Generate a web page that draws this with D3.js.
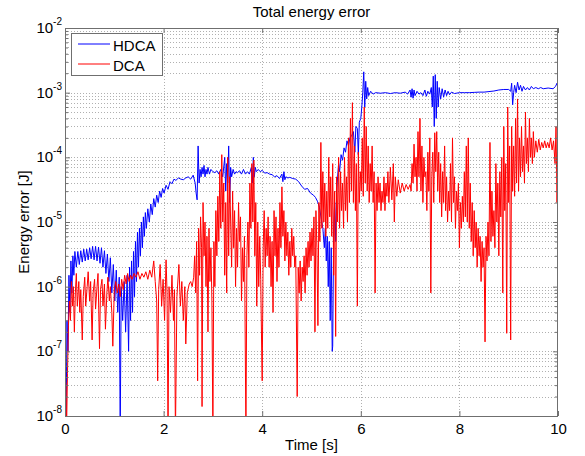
<!DOCTYPE html>
<html><head><meta charset="utf-8">
<script src="https://cdn.jsdelivr.net/npm/d3@7"></script>
<style>
body{margin:0;background:#fff;}
svg{display:block;font-family:"Liberation Sans",Arial,sans-serif;}
</style></head>
<body><svg id="c" width="585" height="456"></svg>
<script>
const xTicks = [0, 2, 4, 6, 8, 10];
const yDecades = [1e-8, 1e-7, 1e-6, 1e-5, 1e-4, 1e-3, 1e-2];
const yExponents = ["-8", "-7", "-6", "-5", "-4", "-3", "-2"];
const seriesNames = ["HDCA", "DCA"];
const seriesColors = ["#0000ff", "#ff0000"];

const hdcaData = [
[0.00,2e-7],[0.02,5e-9],[0.04,3e-7],[0.06,1e-7],[0.08,1.5e-6],[0.10,4e-7],[0.12,2.5e-6],[0.14,8e-7],[0.16,3e-6],[0.18,1.5e-6],
[0.20,3.5e-6],[0.23,2e-6],[0.26,3.5e-6],[0.29,2.2e-6],[0.32,3.6e-6],[0.35,2.4e-6],[0.38,3.8e-6],[0.41,2.5e-6],[0.44,3.8e-6],[0.47,2.6e-6],
[0.50,4e-6],[0.53,2.7e-6],[0.56,4.2e-6],[0.59,2.6e-6],[0.62,4.2e-6],[0.65,2.5e-6],[0.68,4.1e-6],[0.71,2.3e-6],[0.74,4e-6],[0.77,2e-6],
[0.80,3.6e-6],[0.83,1.6e-6],[0.86,3.2e-6],[0.89,1.2e-6],[0.92,2.8e-6],[0.95,8e-7],[0.98,2.2e-6],[1.01,6e-7],[1.04,1.8e-6],[1.07,4e-7],
[1.10,1.4e-6],[1.12,5e-9],[1.14,1e-6],[1.17,3e-7],[1.20,1.2e-6],[1.23,2e-7],[1.26,1.5e-6],[1.29,1e-7],[1.31,2e-6],[1.33,3e-7],
[1.35,2.5e-6],[1.37,4e-7],[1.39,3.5e-6],[1.41,7e-7],[1.43,5e-6],[1.45,1.2e-6],[1.47,7e-6],[1.49,2e-6],[1.51,8e-6],[1.53,3e-6],
[1.55,1e-5],[1.57,4e-6],[1.59,1.2e-5],[1.61,6e-6],[1.63,1.4e-5],[1.65,8e-6],[1.68,1.6e-5],[1.71,1e-5],[1.74,1.9e-5],[1.77,1.3e-5],
[1.80,2.3e-5],[1.83,1.7e-5],[1.86,2.6e-5],[1.89,2e-5],[1.92,3e-5],[1.95,2.4e-5],[1.98,3.3e-5],[2.01,2.8e-5],[2.05,3.7e-5],[2.09,3.2e-5],
[2.13,4.2e-5],[2.17,3.9e-5],[2.21,4.6e-5],[2.25,4.4e-5],[2.30,4.8e-5],[2.35,4.6e-5],[2.40,4.5e-5],[2.45,4.8e-5],[2.50,5e-5],[2.55,4.6e-5],
[2.60,5.3e-5],[2.64,4e-5],[2.66,2.8e-5],[2.68,2.2e-5],[2.70,1.5e-4],[2.72,4e-5],[2.74,6.5e-5],[2.76,5e-5],[2.78,7e-5],[2.80,5.5e-5],
[2.82,7.5e-5],[2.84,5e-5],[2.86,6.5e-5],[2.88,5.5e-5],[2.90,7e-5],[2.93,5.5e-5],[2.96,6.5e-5],[3.00,6e-5],[3.04,5.8e-5],[3.08,6.2e-5],
[3.12,5.5e-5],[3.16,6.5e-5],[3.20,5e-5],[3.24,1e-4],[3.26,3e-5],[3.28,8e-5],[3.30,4e-5],[3.32,1.5e-4],[3.34,2e-5],[3.36,7e-5],
[3.38,5e-5],[3.41,6.5e-5],[3.44,5.5e-5],[3.47,6e-5],[3.50,5.8e-5],[3.54,6.2e-5],[3.58,5.5e-5],[3.62,6.5e-5],[3.66,5.5e-5],[3.70,6e-5],
[3.74,5.5e-5],[3.78,7e-5],[3.80,4e-5],[3.82,1e-4],[3.84,5e-5],[3.86,7e-5],[3.88,6e-5],[3.92,6.5e-5],[3.96,6e-5],[4.00,6.3e-5],
[4.05,5.7e-5],[4.10,5.8e-5],[4.15,5.5e-5],[4.20,5.4e-5],[4.25,5e-5],[4.30,5.2e-5],[4.35,4.7e-5],[4.40,5.5e-5],[4.42,4.2e-5],[4.44,6e-5],
[4.46,4.5e-5],[4.48,5e-5],[4.52,4.8e-5],[4.56,4.9e-5],[4.62,4.7e-5],[4.68,4.6e-5],[4.74,4.2e-5],[4.80,3.6e-5],[4.86,3.2e-5],[4.92,3.3e-5],
[4.98,2.8e-5],[5.04,2.6e-5],[5.08,2.4e-5],[5.12,2.1e-5],[5.16,1.7e-5],[5.20,1.1e-5],[5.23,8e-6],[5.26,4e-6],[5.28,8e-6],[5.30,2.5e-6],
[5.32,6e-6],[5.34,1e-6],[5.36,5e-6],[5.38,3e-7],[5.40,4e-6],[5.42,1e-7],[5.43,1.2e-7],[5.45,8e-6],[5.47,2e-5],[5.49,5e-6],
[5.51,3e-5],[5.53,5e-5],[5.55,8e-5],[5.57,6e-5],[5.60,1.1e-4],[5.63,9e-5],[5.66,1.4e-4],[5.69,1.2e-4],[5.72,1.8e-4],[5.75,1.5e-4],
[5.78,2e-4],[5.82,2.2e-4],[5.85,2.5e-4],[5.88,1.2e-4],[5.90,3e-4],[5.93,2.8e-4],[5.95,1.1e-4],[5.97,3.5e-4],[6.00,4e-4],[6.02,6e-4],
[6.04,1e-3],[6.06,2.1e-3],[6.08,6e-4],[6.10,1.5e-3],[6.12,8e-4],[6.14,1.2e-3],[6.16,9e-4],[6.20,1.05e-3],[6.25,9.5e-4],[6.30,1e-3],
[6.40,9.8e-4],[6.50,1e-3],[6.60,9.7e-4],[6.70,1e-3],[6.80,9.8e-4],[6.90,1.02e-3],[6.95,9.5e-4],[7.00,1.1e-3],[7.02,8.5e-4],[7.04,1.15e-3],
[7.06,8.2e-4],[7.08,1.1e-3],[7.10,9e-4],[7.14,1.05e-3],[7.18,9.5e-4],[7.22,1e-3],[7.26,9e-4],[7.30,1.1e-3],[7.33,8.8e-4],[7.36,1.05e-3],
[7.40,9.5e-4],[7.43,1.2e-3],[7.45,6e-4],[7.47,1.8e-3],[7.49,3e-4],[7.51,1.9e-3],[7.53,4e-4],[7.55,1.5e-3],[7.57,6e-4],[7.59,1.2e-3],
[7.62,8e-4],[7.65,1.15e-3],[7.68,8.5e-4],[7.71,1.1e-3],[7.74,9e-4],[7.77,1.05e-3],[7.80,9.3e-4],[7.84,1.02e-3],[7.90,9.7e-4],[8.00,1e-3],
[8.10,1e-3],[8.20,1e-3],[8.30,1.01e-3],[8.40,1.02e-3],[8.50,1.02e-3],[8.60,1.04e-3],[8.70,1.06e-3],[8.80,1.1e-3],[8.90,1.12e-3],[9.00,1.12e-3],
[9.04,1.05e-3],[9.06,1.4e-3],[9.08,6.5e-4],[9.10,1e-3],[9.12,1.3e-3],[9.15,1e-3],[9.18,1.45e-3],[9.21,1.1e-3],[9.24,1.3e-3],[9.27,1.05e-3],
[9.30,1.25e-3],[9.34,1.1e-3],[9.38,1.2e-3],[9.42,1.1e-3],[9.46,1.25e-3],[9.50,1.15e-3],[9.55,1.2e-3],[9.60,1.15e-3],[9.65,1.2e-3],[9.70,1.15e-3],
[9.80,1.18e-3],[9.90,1.15e-3],[9.95,1.25e-3],[9.98,1.4e-3],[10.00,1.2e-3]
];

const dcaData = [
[0.00,4e-8],[0.02,3e-8],[0.03,5e-9],[0.05,4.5e-8],[0.07,2.5e-7],[0.09,6e-7],[0.11,3e-7],[0.13,1.2e-6],[0.15,5e-7],[0.17,1e-6],
[0.19,2e-7],[0.21,8e-7],[0.23,1.6e-6],[0.25,5e-7],[0.28,1.2e-6],[0.30,4e-7],[0.32,9e-7],[0.35,1.5e-7],[0.37,7e-7],[0.40,1.4e-6],
[0.42,5e-7],[0.45,1e-6],[0.47,1.7e-6],[0.50,6e-7],[0.52,1.2e-6],[0.55,1.5e-7],[0.57,8e-7],[0.60,1.3e-6],[0.62,4.5e-7],[0.65,1e-6],
[0.67,1.6e-6],[0.70,1.1e-7],[0.72,9e-7],[0.75,1.3e-6],[0.77,5e-7],[0.80,1.1e-6],[0.82,2.2e-7],[0.85,8e-7],[0.87,1.4e-6],[0.90,6e-7],
[0.92,1e-6],[0.95,4e-7],[0.97,1.2e-7],[1.00,9e-7],[1.03,1.2e-6],[1.06,8e-7],[1.09,1.1e-6],[1.12,7e-7],[1.15,1.3e-6],[1.18,9e-7],
[1.21,1.5e-6],[1.24,1.1e-6],[1.27,1.6e-6],[1.30,1.2e-6],[1.33,1.5e-6],[1.36,1.3e-6],[1.40,1.6e-6],[1.44,1.4e-6],[1.48,1.7e-6],[1.52,1.3e-6],
[1.56,1.6e-6],[1.60,1.4e-6],[1.64,1.7e-6],[1.68,1.3e-6],[1.72,1.8e-6],[1.76,1.4e-6],[1.80,2.5e-6],[1.83,1.2e-6],[1.86,6e-7],[1.88,3.5e-8],
[1.90,9e-7],[1.93,2.2e-6],[1.96,5e-7],[1.99,1.3e-6],[2.02,3e-7],[2.05,2.6e-6],[2.07,8e-7],[2.09,5e-9],[2.11,1e-6],[2.14,4e-7],
[2.17,1.5e-6],[2.20,3e-7],[2.22,9e-7],[2.24,5e-9],[2.27,7e-7],[2.31,2.2e-6],[2.34,5e-7],[2.37,1.2e-6],[2.40,3e-7],[2.43,1e-6],
[2.45,1.3e-7],[2.48,8e-7],[2.52,1.1e-6],[2.55,1.2e-6],[2.58,1e-6],[2.61,1.4e-6],[2.63,3e-6],[2.65,8e-7],[2.67,5e-6],[2.69,3.5e-8],
[2.71,8e-6],[2.73,1.5e-6],[2.75,1.2e-5],[2.77,4e-6],[2.78,1.4e-8],[2.80,2e-5],[2.82,3e-6],[2.84,1e-5],[2.86,1e-6],[2.88,6e-6],
[2.90,2e-7],[2.92,8e-6],[2.94,1.2e-6],[2.96,4e-6],[2.98,6e-7],[3.00,5e-9],[3.02,5e-6],[3.04,1e-6],[3.06,1.5e-5],[3.08,3e-6],
[3.10,2.5e-5],[3.12,5e-6],[3.14,6e-5],[3.16,8e-6],[3.18,1.1e-4],[3.20,1e-5],[3.22,4e-5],[3.24,1.5e-6],[3.26,2e-5],[3.28,8e-7],
[3.30,1e-4],[3.32,3e-6],[3.34,5e-5],[3.36,1e-5],[3.38,2e-6],[3.40,3e-5],[3.42,4e-6],[3.44,1.5e-5],[3.46,1e-6],[3.48,8e-6],
[3.50,2e-6],[3.52,2e-5],[3.54,5e-6],[3.56,1.2e-5],[3.58,6e-7],[3.60,4e-6],[3.62,1.2e-6],[3.64,6e-6],[3.67,5e-9],[3.69,3e-6],
[3.71,1e-5],[3.73,2e-6],[3.75,4e-5],[3.77,8e-6],[3.79,8e-5],[3.81,1e-5],[3.83,9e-5],[3.85,3e-6],[3.87,2e-5],[3.89,5e-7],
[3.91,1e-5],[3.93,1e-6],[3.95,6e-6],[3.97,1.3e-6],[3.99,1e-7],[4.00,3.5e-8],[4.02,4e-6],[4.04,1.5e-5],[4.06,2e-6],[4.08,8e-6],
[4.10,3e-6],[4.12,1.2e-5],[4.14,2e-6],[4.16,6e-6],[4.18,1e-6],[4.20,5e-6],[4.22,4e-7],[4.24,1.5e-5],[4.26,3e-6],[4.28,1.2e-5],
[4.30,1.2e-6],[4.32,8e-6],[4.34,2e-6],[4.36,2e-5],[4.38,4e-6],[4.40,3.5e-5],[4.42,6e-6],[4.44,1.5e-5],[4.46,2.5e-6],[4.48,1e-5],
[4.50,3e-6],[4.52,7e-6],[4.54,1.5e-6],[4.56,5e-6],[4.58,2e-6],[4.60,8e-6],[4.62,3e-6],[4.64,6e-6],[4.66,2e-6],[4.68,3e-6],
[4.70,1e-7],[4.71,2e-8],[4.73,2e-6],[4.75,8e-7],[4.77,2.5e-6],[4.79,6e-7],[4.81,2e-6],[4.83,1.2e-6],[4.85,3e-6],[4.87,8e-7],
[4.89,4e-6],[4.91,1.5e-6],[4.93,5e-6],[4.95,2e-6],[4.97,7e-6],[4.99,2.5e-6],[5.01,8e-6],[5.03,3e-6],[5.05,1.2e-5],[5.07,2e-7],
[5.09,1.5e-5],[5.11,4e-6],[5.13,2.5e-7],[5.15,2e-5],[5.17,5e-6],[5.19,1.7e-4],[5.21,8e-6],[5.23,6e-5],[5.25,1e-5],[5.27,4e-5],
[5.29,6e-6],[5.31,3e-5],[5.33,8e-6],[5.35,1e-4],[5.37,1.2e-5],[5.39,5e-5],[5.41,6e-6],[5.43,8e-5],[5.45,1.5e-6],[5.47,3e-5],
[5.49,1.7e-7],[5.51,5e-5],[5.53,1e-5],[5.55,1e-4],[5.57,8e-6],[5.59,6e-5],[5.61,1.5e-5],[5.63,4e-5],[5.65,8e-6],[5.67,1e-4],
[5.69,1.5e-5],[5.71,5e-5],[5.73,1e-5],[5.75,2e-4],[5.77,2e-5],[5.79,4e-4],[5.81,3e-5],[5.83,7e-4],[5.85,2e-5],[5.87,1.5e-4],
[5.89,1.5e-5],[5.91,8e-5],[5.93,5e-7],[5.95,1.2e-4],[5.97,2e-5],[5.99,6e-5],[6.01,3e-5],[6.03,2e-4],[6.05,2.5e-5],[6.07,6e-4],
[6.09,4e-5],[6.11,3e-4],[6.13,3e-5],[6.15,1.5e-4],[6.17,2e-5],[6.19,8e-5],[6.21,3e-5],[6.23,1.5e-4],[6.25,2e-5],[6.27,6e-5],
[6.29,8e-7],[6.31,4e-5],[6.33,1.5e-5],[6.35,5e-5],[6.37,2e-5],[6.39,4e-5],[6.41,1.5e-5],[6.43,3e-5],[6.45,2e-5],[6.47,5e-5],
[6.49,1.5e-5],[6.51,4e-5],[6.53,2.5e-5],[6.55,6e-5],[6.57,2e-5],[6.60,7e-5],[6.63,2.2e-5],[6.66,8e-5],[6.68,1e-5],[6.70,5e-5],
[6.73,2.5e-5],[6.76,4.5e-5],[6.80,2.8e-5],[6.84,4e-5],[6.88,3e-5],[6.92,3.8e-5],[6.96,3.2e-5],[7.00,3.8e-5],[7.02,3e-5],[7.04,8e-5],
[7.06,4e-5],[7.08,1.6e-4],[7.10,5e-5],[7.12,1e-4],[7.14,3e-5],[7.16,2.5e-4],[7.18,5e-5],[7.20,4e-4],[7.22,3e-5],[7.24,1.5e-4],
[7.26,2e-5],[7.28,1e-4],[7.30,5e-5],[7.32,6e-5],[7.34,1.5e-5],[7.36,1.2e-4],[7.38,3e-5],[7.40,2e-4],[7.42,8e-7],[7.44,5e-5],
[7.46,1.2e-4],[7.48,2e-5],[7.50,2.4e-4],[7.52,6e-5],[7.54,2.5e-4],[7.56,3e-5],[7.58,1.2e-4],[7.60,2e-5],[7.62,8e-5],[7.64,1.2e-5],
[7.66,6e-5],[7.68,2e-5],[7.70,1.5e-4],[7.72,1.5e-5],[7.74,5e-5],[7.76,1e-5],[7.78,3e-5],[7.80,1.5e-5],[7.82,8e-5],[7.84,1e-5],
[7.86,2e-4],[7.88,2e-5],[7.90,5e-5],[7.92,8e-6],[7.94,3e-5],[7.96,1.5e-5],[7.98,4e-5],[8.00,4e-6],[8.02,2e-5],[8.04,8e-6],
[8.06,2.5e-5],[8.08,1e-5],[8.10,6e-5],[8.12,1.2e-5],[8.14,1.5e-4],[8.16,1e-5],[8.18,2e-4],[8.20,8e-6],[8.22,4e-5],[8.24,5e-6],
[8.26,2e-5],[8.28,3e-6],[8.30,1.5e-5],[8.32,4e-6],[8.34,1e-5],[8.36,2e-6],[8.38,8e-6],[8.40,3e-6],[8.42,6e-6],[8.44,1.2e-6],
[8.46,5e-6],[8.48,2e-6],[8.50,4e-6],[8.52,1.4e-7],[8.54,6e-6],[8.56,2.5e-6],[8.58,1e-5],[8.60,3e-6],[8.62,1.7e-4],[8.64,5e-6],
[8.66,3e-5],[8.68,6e-6],[8.70,1.5e-5],[8.72,4e-6],[8.74,8e-5],[8.76,1e-5],[8.78,4e-5],[8.80,3e-6],[8.82,6e-5],[8.84,1.2e-5],
[8.86,1e-4],[8.88,8e-7],[8.90,3e-4],[8.92,1.5e-5],[8.94,8e-5],[8.96,1.9e-7],[8.98,6e-4],[9.00,2e-5],[9.02,1.5e-4],[9.04,1.5e-7],
[9.06,3e-4],[9.08,3e-5],[9.10,1.5e-4],[9.12,2.5e-5],[9.14,4e-4],[9.16,4e-5],[9.18,8e-4],[9.20,3e-5],[9.22,2e-4],[9.24,5e-5],
[9.26,3e-4],[9.28,6e-5],[9.30,1.5e-4],[9.32,4e-5],[9.34,5e-4],[9.36,8e-5],[9.38,2e-4],[9.40,6e-5],[9.42,4e-4],[9.44,1e-4],
[9.46,2e-4],[9.48,8e-5],[9.50,2.5e-4],[9.52,1e-4],[9.55,1.8e-4],[9.58,1.2e-4],[9.61,1.9e-4],[9.64,1.3e-4],[9.67,1.7e-4],[9.70,1.4e-4],
[9.73,1.8e-4],[9.76,1.4e-4],[9.79,1.7e-4],[9.82,1.4e-4],[9.85,2e-4],[9.88,1.3e-4],[9.91,1.8e-4],[9.94,8e-5],[9.96,3e-4],[9.98,2e-5],
[10.00,1.5e-4]
];

const svg = d3.select("#c");
const L = 65, R = 558, T = 28, B = 416;
const x = d3.scaleLinear().domain([0, 10]).range([L, R]);
const y = d3.scaleLog().domain([1e-8, 1e-2]).range([B, T]);
const axisCol = "#6f6f6f", gridCol = "#b0b0b0";
const font = "Liberation Sans, Arial, sans-serif";

const minorVals = [];
yDecades.slice(0, -1).forEach(d => { for (let k = 2; k <= 9; k++) minorVals.push(d * k); });

const grid = svg.append("g").attr("stroke", gridCol).attr("stroke-width", 1)
  .attr("stroke-dasharray", "1,2").attr("shape-rendering", "crispEdges");
grid.selectAll(".gx").data(xTicks.slice(1, -1)).enter().append("line")
  .attr("x1", d => Math.round(x(d)) + 0.5).attr("x2", d => Math.round(x(d)) + 0.5)
  .attr("y1", T).attr("y2", B);
grid.selectAll(".gy").data(yDecades.slice(1, -1).concat(minorVals)).enter().append("line")
  .attr("x1", L).attr("x2", R)
  .attr("y1", d => Math.round(y(d)) + 0.5).attr("y2", d => Math.round(y(d)) + 0.5);

svg.append("clipPath").attr("id", "clip").append("rect")
  .attr("x", L).attr("y", T).attr("width", R - L).attr("height", B - T);
const line = d3.line().x(d => x(d[0])).y(d => y(Math.max(d[1], 1e-9)));
const plot = svg.append("g").attr("clip-path", "url(#clip)");
[hdcaData, dcaData].forEach((data, i) => {
  plot.append("path").datum(data).attr("d", line)
    .attr("fill", "none").attr("stroke", seriesColors[i])
    .attr("stroke-width", 1).attr("stroke-linejoin", "miter").attr("stroke-miterlimit", 40);
});

const xAxis = d3.axisBottom(x).tickValues(xTicks).tickSize(-5).tickPadding(7).tickFormat(d3.format("d"));
const gx = svg.append("g").attr("transform", `translate(0,${B})`).call(xAxis);
gx.select(".domain").remove();
gx.selectAll("line").attr("stroke", axisCol);
gx.selectAll("text").attr("font-size", 15).attr("font-family", font).attr("fill", "#000");

const xTop = d3.axisTop(x).tickValues(xTicks).tickSize(-5).tickFormat("");
const gxt = svg.append("g").attr("transform", `translate(0,${T})`).call(xTop);
gxt.select(".domain").remove(); gxt.selectAll("line").attr("stroke", axisCol);

const yAxis = d3.axisLeft(y).tickValues(yDecades).tickSize(-5).tickFormat("");
const gy = svg.append("g").attr("transform", `translate(${L},0)`).call(yAxis);
gy.select(".domain").remove(); gy.selectAll("line").attr("stroke", axisCol);
const yMinor = d3.axisLeft(y).tickValues(minorVals).tickSize(-3).tickFormat("");
const gym = svg.append("g").attr("transform", `translate(${L},0)`).call(yMinor);
gym.select(".domain").remove(); gym.selectAll("line").attr("stroke", axisCol);
const yR = d3.axisRight(y).tickValues(yDecades).tickSize(-5).tickFormat("");
const gyr = svg.append("g").attr("transform", `translate(${R},0)`).call(yR);
gyr.select(".domain").remove(); gyr.selectAll("line").attr("stroke", axisCol);
const yRm = d3.axisRight(y).tickValues(minorVals).tickSize(-3).tickFormat("");
const gyrm = svg.append("g").attr("transform", `translate(${R},0)`).call(yRm);
gyrm.select(".domain").remove(); gyrm.selectAll("line").attr("stroke", axisCol);

const yl = svg.append("g").attr("font-family", font).attr("fill", "#000");
yDecades.forEach((d, i) => {
  const t = yl.append("text").attr("x", L - 3).attr("y", y(d) + 5).attr("text-anchor", "end");
  t.append("tspan").attr("font-size", 15).text("10");
  t.append("tspan").attr("font-size", 10).attr("dy", -8).text(yExponents[i]);
});

svg.append("rect").attr("x", L + 0.5).attr("y", T + 0.5).attr("width", R - L - 1).attr("height", B - T)
  .attr("fill", "none").attr("stroke", axisCol).attr("shape-rendering", "crispEdges");

svg.append("text").attr("x", (L + R) / 2).attr("y", 17).attr("text-anchor", "middle")
  .attr("font-size", 15).attr("font-family", font).text("Total energy error");
svg.append("text").attr("x", (L + R) / 2).attr("y", 450).attr("text-anchor", "middle")
  .attr("font-size", 15).attr("font-family", font).text("Time [s]");
svg.append("text").attr("transform", `translate(29,${(T + B) / 2}) rotate(-90)`).attr("text-anchor", "middle")
  .attr("font-size", 15).attr("font-family", font).text("Energy error [J]");

const lg = svg.append("g");
lg.append("rect").attr("x", 71.5).attr("y", 33.5).attr("width", 91).attr("height", 42)
  .attr("fill", "#fff").attr("stroke", axisCol);
seriesNames.forEach((n, i) => {
  const yy = 44 + i * 20;
  lg.append("line").attr("x1", 78).attr("x2", 110).attr("y1", yy).attr("y2", yy)
    .attr("stroke", seriesColors[i]).attr("stroke-width", 1);
  lg.append("text").attr("x", 113).attr("y", yy + 7).attr("font-size", 15).attr("font-family", font).text(n);
});
</script></body></html>
